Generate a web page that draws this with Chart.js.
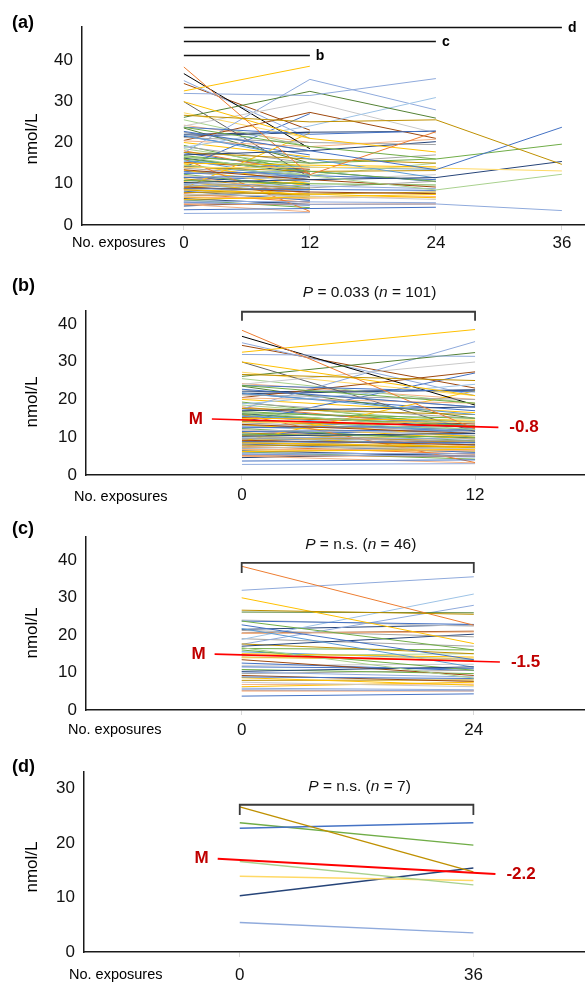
<!DOCTYPE html>
<html>
<head>
<meta charset="utf-8">
<script src="https://cdn.jsdelivr.net/npm/chart.js@4.4.0/dist/chart.umd.min.js"></script>
<style>
  body { margin: 0; background: #fff; width: 585px; height: 984px; position: relative; overflow: hidden; }
  canvas { position: absolute; left: 0; }
</style>
</head>
<body>
<canvas id="ca" width="585" height="256" style="top:0px"></canvas>
<canvas id="cb" width="585" height="258" style="top:250px"></canvas>
<canvas id="cc" width="585" height="245" style="top:500px"></canvas>
<canvas id="cd" width="585" height="244" style="top:740px"></canvas>
<script>
// exposure points on the x axis
const exposures = [0, 12, 24, 36];
const yTicks = [0, 10, 20, 30, 40];

// one value per subject (101 at 0 and 12, 46 reach 24, 7 reach 36)
const v0 = [26.6, 22.7, 23.7, 16.6, 13.9, 10.3, 5.4, 38.3, 31.9, 29.9,
  26.1, 23.7, 21.7, 18.8, 20.4, 21.2, 17.0, 17.6, 16.4, 16.0,
  15.0, 14.1, 13.4, 11.5, 10.8, 10.1, 9.7, 8.8, 8.6, 7.4,
  6.2, 5.8, 5.1, 3.7, 24.0, 20.5, 17.5, 21.5, 19.0, 14.5,
  12.5, 9.2, 7.9, 6.8, 11.9, 15.5, 32.5, 36.7, 35.0, 34.3,
  29.9, 27.2, 25.5, 16.0, 8.9, 14.0, 22.0, 23.5, 21.5, 22.5,
  18.5, 20.0, 18.0, 17.5, 16.8, 16.2, 15.8, 15.2, 14.8, 14.3,
  13.8, 13.3, 12.8, 12.3, 12.0, 11.6, 11.2, 10.8, 10.5, 10.2,
  9.8, 9.5, 9.2, 8.9, 8.5, 8.2, 7.9, 7.6, 7.3, 7.0,
  6.7, 6.4, 6.1, 5.8, 5.5, 5.0, 4.6, 2.8, 19.3, 24.2,
  13.0];
const v12 = [25.0, 18.0, 19.0, 12.0, 14.0, 11.0, 5.0, 12.2, 31.4, 21.0,
  32.4, 22.0, 16.0, 24.0, 19.0, 20.0, 18.0, 16.0, 15.0, 13.0,
  14.5, 13.0, 11.0, 12.0, 10.0, 9.5, 9.0, 8.6, 7.5, 7.0,
  6.8, 5.6, 5.0, 4.0, 29.9, 27.3, 35.3, 22.5, 15.0, 12.0,
  13.0, 8.0, 7.5, 6.5, 11.0, 14.0, 38.5, 18.5, 21.0, 23.0,
  11.5, 21.0, 19.0, 3.3, 22.3, 27.0, 22.5, 15.0, 17.0, 18.0,
  14.0, 16.5, 12.5, 13.0, 14.0, 12.5, 11.0, 13.5, 10.0, 12.0,
  11.5, 9.5, 10.5, 9.0, 7.5, 9.8, 8.5, 11.8, 7.0, 9.0,
  8.0, 6.5, 10.5, 8.7, 7.2, 6.0, 9.2, 5.5, 7.0, 8.5,
  6.3, 5.0, 4.2, 7.8, 4.8, 3.2, 5.8, 3.0, 12.8, 20.0,
  12.2];
const v24 = [25.5, 13.4, 16.0, 8.5, 13.8, 11.5, 5.1, 22.6, 35.5, 17.7,
  25.9, 22.8, 11.4, 30.9, 20.8, 19.5, 20.2, 15.0, 16.0, 10.6,
  14.1, 13.2, 9.2, 11.0, 9.7, 8.8, 10.6, 8.4, 6.6, 6.2,
  7.4, 5.4, 5.1, 4.3, 22.3, 21.0, 27.9, 22.7, 17.0, 15.0,
  10.5, 7.6, 8.0, 6.9, 12.2, 13.5];
const v36 = [14.7, 23.7, 19.6, 12.3, 13.1, 15.4, 3.5];

const C = { bl: '#4472C4', or: '#ED7D31', gy: '#A5A5A5', go: '#FFC000', lb: '#5B9BD5', gr: '#70AD47',
  nv: '#264478', br: '#9E480E', dg: '#636363', dk: '#BF9000', pb: '#8FAADC', lo: '#F4B183',
  lg: '#C9C9C9', ly: '#FFD966', lr: '#A9D18E', dgr: '#548235', pp: '#9DC3E6', k: '#000000' };
const lineColors = ['dk','bl','gr','lr','ly','nv','pb','or','pb','go',
  'dgr','bl','lb','pp','lo','gy','nv','dk','gr','gr',
  'go','dk','br','bl','gr','pb','gy','bl','go','lg',
  'go','pb','or','bl','lg','br','pb','nv','gy','lr',
  'bl','br','dk','lo','lg','lb','go','k','pb','br',
  'dg','ly','lr','or','go','bl','nv','dgr','bl','gy',
  'lr','go','or','bl','gr','nv','lb','br','go','bl',
  'gy','go','pb','gr','lo','nv','dk','bl','go','dk',
  'lb','gy','go','br','dk','bl','lg','or','dk','pb',
  'go','nv','gr','gy','bl','lo','nv','pb','gr','lo',
  'bl'].map(k => C[k]);

const pValues = ['0.033', 'n.s.', 'n.s.'];
const nCounts = [101, 46, 7];
const medianX = [[-1.55, 13.2], [-2.8, 26.7], [-3.4, 39.4]];
const medianY = [[14.8, 12.6], [14.9, 12.8], [17.1, 14.3]];
const medianChange = ['-0.8', '-1.5', '-2.2'];

const FONT = '"Liberation Sans", Arial, Helvetica, sans-serif';
const RED = '#C00000';

function subjectLines(endIdx, count, width) {
  const out = [];
  for (let i = 0; i < count; i++) {
    const vals = [v0[i], v12[i], v24[i], v36[i]];
    let pts;
    if (endIdx === 0) {
      pts = [];
      for (let k = 0; k < 4; k++) if (vals[k] !== undefined) pts.push({ x: exposures[k], y: vals[k] });
    } else {
      pts = [{ x: exposures[0], y: vals[0] }, { x: exposures[endIdx], y: vals[endIdx] }];
    }
    out.push({ data: pts, showLine: true, pointRadius: 0, borderWidth: width, borderColor: lineColors[i], fill: false });
  }
  return out;
}

function drawTitle(ctx, parts, cx, cy, size) {
  let w = 0;
  parts.forEach(p => { ctx.font = (p[1] ? 'italic ' : '') + size + 'px ' + FONT; w += ctx.measureText(p[0]).width; });
  let x = cx - w / 2;
  ctx.textAlign = 'left';
  parts.forEach(p => { ctx.font = (p[1] ? 'italic ' : '') + size + 'px ' + FONT; ctx.fillText(p[0], x, cy); x += ctx.measureText(p[0]).width; });
}

const extras = {
  id: 'extras',
  afterDraw(chart) {
    const o = chart.options.plugins.extras;
    const ctx = chart.ctx, xs = chart.scales.x, ys = chart.scales.y;
    ctx.save();
    ctx.fillStyle = '#000';
    ctx.textBaseline = 'middle';
    ctx.textAlign = 'left';
    ctx.font = 'bold 18px ' + FONT;
    ctx.fillText(o.letter, 12, o.letterY);

    ctx.save();
    ctx.translate(32, o.yTitleY);
    ctx.rotate(-Math.PI / 2);
    ctx.textAlign = 'center';
    ctx.font = '17px ' + FONT;
    ctx.fillText('nmol/L', 0, 0);
    ctx.restore();

    ctx.textAlign = 'left';
    ctx.font = '14.5px ' + FONT;
    ctx.fillText('No. exposures', o.noExpX, o.noExpY);

    if (o.brackets) {
      ctx.strokeStyle = '#111';
      ctx.lineWidth = 1.3;
      o.brackets.forEach(b => {
        const py = Math.round(ys.getPixelForValue(b.y)) + 0.5;
        const x1 = xs.getPixelForValue(0), x2 = xs.getPixelForValue(b.to);
        ctx.beginPath(); ctx.moveTo(x1, py); ctx.lineTo(x2, py); ctx.stroke();
        ctx.font = 'bold 14px ' + FONT;
        ctx.fillText(b.label, x2 + 6, py + 1);
      });
    }

    if (o.bracket) {
      const b = o.bracket;
      const x1 = xs.getPixelForValue(0), x2 = xs.getPixelForValue(b.to);
      const py = ys.getPixelForValue(b.y), pe = ys.getPixelForValue(b.yEnd);
      ctx.strokeStyle = '#3a3a3a';
      ctx.lineWidth = 1.8;
      ctx.beginPath();
      ctx.moveTo(x1, pe); ctx.lineTo(x1, py); ctx.lineTo(x2, py); ctx.lineTo(x2, pe);
      ctx.stroke();
      const m = o.median;
      ctx.fillStyle = '#111';
      drawTitle(ctx, [['P', true], [' = ' + pValues[m] + ' (', false], ['n', true], [' = ' + nCounts[m] + ')', false]],
        (x1 + x2) / 2 + b.dx, o.titleY, 15.5);

      ctx.fillStyle = RED;
      ctx.font = 'bold 17px ' + FONT;
      ctx.textAlign = 'right';
      ctx.fillText('M', xs.getPixelForValue(medianX[m][0]) - 9, ys.getPixelForValue(medianY[m][0]));
      ctx.textAlign = 'left';
      ctx.fillText(medianChange[m], xs.getPixelForValue(medianX[m][1]) + 11, ys.getPixelForValue(medianY[m][1]));
    }
    ctx.restore();
  }
};

function makeChart(id, p, datasets) {
  return new Chart(document.getElementById(id), {
    type: 'scatter',
    data: { datasets: datasets },
    options: {
      responsive: false,
      animation: false,
      events: [],
      layout: { padding: { top: p.padTop, left: 0, right: 0, bottom: 0 } },
      scales: {
        x: {
          type: 'linear', min: p.xMin, max: p.xMax,
          afterBuildTicks: s => { s.ticks = p.xTicks.map(v => ({ value: v })); },
          ticks: { color: '#111', font: { size: 17, family: FONT }, padding: p.tickPad, maxRotation: 0 },
          grid: { display: true, drawOnChartArea: false, drawTicks: true, tickLength: 5, color: '#d8d8d8', lineWidth: 1 },
          border: { display: true, color: '#1a1a1a', width: 1.5 },
          afterFit: s => { s.height = p.xh; }
        },
        y: {
          type: 'linear', min: 0, max: p.yMax,
          ticks: { color: '#111', font: { size: 17, family: FONT }, padding: 9 },
          afterBuildTicks: s => { s.ticks = yTicks.filter(v => v <= p.yMax).map(v => ({ value: v })); },
          grid: { display: false, drawTicks: false },
          border: { display: true, color: '#1a1a1a', width: 1.5 },
          afterFit: s => { s.width = p.yw; }
        }
      },
      plugins: { legend: { display: false }, tooltip: { enabled: false }, extras: p.extras }
    },
    plugins: [extras]
  });
}

function medianSet(m, w) {
  return { data: medianX[m].map((x, i) => ({ x: x, y: medianY[m][i] })), showLine: true, pointRadius: 0,
    borderWidth: w, borderColor: '#FF0000', fill: false };
}

makeChart('ca', { padTop: 27, xh: 31, yw: 82, xMin: -9.7, xMax: 38.2, yMax: 48, xTicks: exposures, tickPad: 3,
  extras: { letter: '(a)', letterY: 23, yTitleY: 139, noExpX: 72, noExpY: 243,
    brackets: [{ to: 12, y: 41.2, label: 'b' }, { to: 24, y: 44.6, label: 'c' }, { to: 36, y: 48, label: 'd' }] } },
  subjectLines(0, v0.length, 1));

makeChart('cb', { padTop: 61, xh: 33, yw: 86, xMin: -8.03, xMax: 17.66, yMax: 43.4, xTicks: [0, 12], tickPad: 5,
  extras: { letter: '(b)', letterY: 36, yTitleY: 152, noExpX: 74, noExpY: 247, titleY: 43, median: 0,
    bracket: { to: 12, y: 43.2, yEnd: 40.8, dx: 11 } } },
  [medianSet(0, 1.6)].concat(subjectLines(1, v0.length, 1)));

makeChart('cc', { padTop: 37, xh: 35, yw: 86, xMin: -16.1, xMax: 35.5, yMax: 46.1, xTicks: [0, 24], tickPad: 5,
  extras: { letter: '(c)', letterY: 29, yTitleY: 133, noExpX: 68, noExpY: 230, titleY: 45, median: 1,
    bracket: { to: 24, y: 39.2, yEnd: 36.5, dx: 3 } } },
  [medianSet(1, 1.6)].concat(subjectLines(2, v24.length, 1)));

makeChart('cd', { padTop: 32, xh: 32, yw: 84, xMin: -24, xMax: 53.2, yMax: 33, xTicks: [0, 36], tickPad: 8,
  extras: { letter: '(d)', letterY: 27, yTitleY: 127, noExpX: 69, noExpY: 235, titleY: 47, median: 2,
    bracket: { to: 36, y: 27.0, yEnd: 25.1, dx: 3 } } },
  [medianSet(2, 1.8)].concat(subjectLines(3, v36.length, 1.4)));
</script>
</body>
</html>
